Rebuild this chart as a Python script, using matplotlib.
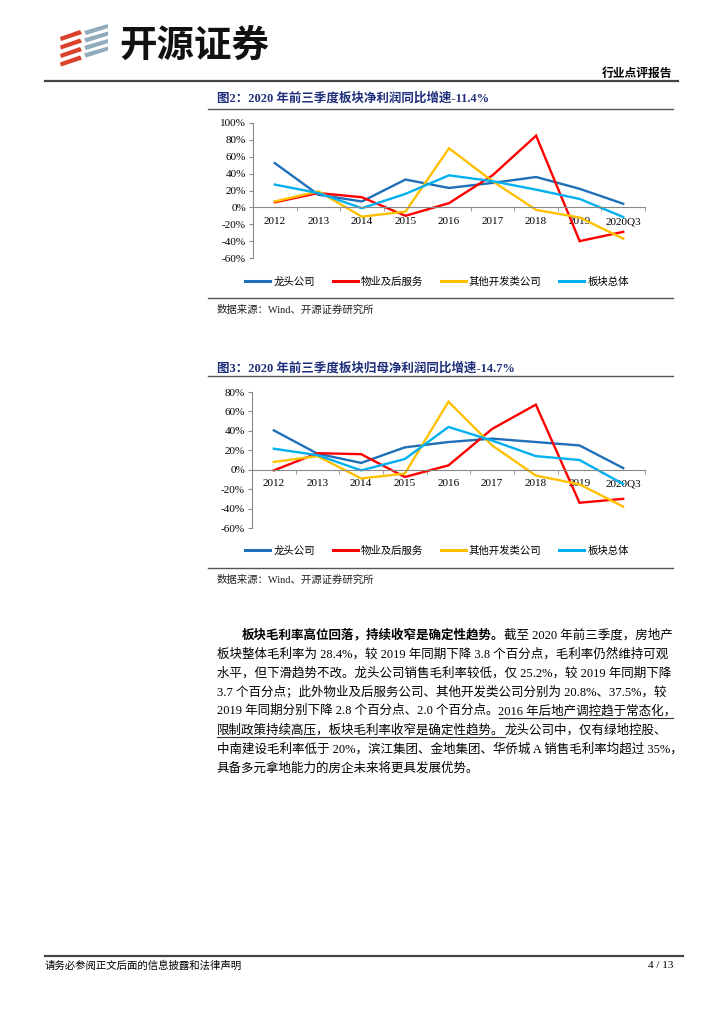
import matplotlib
matplotlib.use("Agg")
import matplotlib.pyplot as plt
from matplotlib.patches import Polygon

plt.rcParams['font.family'] = ['Liberation Serif', 'Noto Sans CJK SC', 'DejaVu Sans']

years = ['2012', '2013', '2014', '2015', '2016', '2017', '2018', '2019', '2020Q3']
series_names = ['龙头公司', '物业及后服务', '其他开发类公司', '板块总体']
colors = ['#1f6fb8', '#ff0000', '#ffc000', '#00b0f0']

# 图2 净利润同比增速 (%)
net_leader = [52.5, 15, 7, 33, 23, 29, 36, 22, 4.3]
net_property = [6, 17, 12, -10, 5, 38, 85, -40, -29]
net_other = [7, 19, -11, -5, 70, 31, -3, -12, -37]
net_total = [27, 17, -1, 16, 38, 31, 21, 10, -11.4]

# 图3 归母净利润同比增速 (%)
parent_leader = [40.5, 16.5, 7, 23, 28.5, 32, 28.5, 25, 1.7]
parent_property = [-0.7, 17, 16, -7.5, 4.5, 42, 67, -34, -30]
parent_other = [8, 14, -9, -4, 70, 25, -6, -15, -38]
parent_total = [21.6, 15, -0.7, 11, 44, 30, 14, 10, -14.7]

W, H = 724, 1024
fig = plt.figure(figsize=(W / 100, H / 100), dpi=100)
bg = fig.add_axes([0, 0, 1, 1])
bg.set_xlim(0, W)
bg.set_ylim(H, 0)
bg.axis('off')

cjk = ['Liberation Serif', 'Noto Sans CJK SC']
navy = '#1f2f7a'

# ---- header ----
for i in range(4):
    y0 = 30 + i * 8.5
    bg.add_patch(Polygon([[60, y0 + 7], [80, y0], [82, y0 + 4], [61, y0 + 11]],
                         closed=True, color='#d9412b', lw=0))
for i in range(4):
    y0 = 24 + i * 7.5
    bg.add_patch(Polygon([[84, y0 + 7], [108, y0], [108, y0 + 4], [86, y0 + 11]],
                         closed=True, color='#8fabbd', lw=0))
bg.text(119, 45, '开源证券', fontsize=27, fontweight='bold', family='Noto Sans CJK SC',
        va='center', ha='left', color='#111111')
bg.text(672, 73, '行业点评报告', fontsize=8.5, fontweight='bold', family='Noto Sans CJK SC',
        va='center', ha='right', color='black')
bg.plot([45, 678], [80.5, 80.5], color='#444444', lw=1.6)

# ---- footer ----
bg.plot([45, 683], [956, 956], color='#444444', lw=1.6)
bg.text(45, 966, '请务必参阅正文后面的信息披露和法律声明', fontsize=7.5, family=cjk,
        va='center', ha='left', color='black')
bg.text(673, 966, '4 / 13', fontsize=8, family=cjk, va='center', ha='right', color='black')


def draw_chart(rect, data, ylim, yticks, title, title_y, top_line, bottom_line, legend_y):
    bg.text(217, title_y, title, fontsize=9, fontweight='bold', family=cjk,
            color=navy, va='center', ha='left')
    bg.plot([208, 673], [top_line, top_line], color='#555555', lw=1.0)
    bg.plot([208, 673], [bottom_line, bottom_line], color='#555555', lw=1.0)
    bg.text(217, bottom_line + 12, '数据来源：Wind、开源证券研究所', fontsize=7.5,
            family=cjk, va='center', ha='left', color='#222222')

    ax = fig.add_axes(rect)
    ax.patch.set_alpha(0)
    x = list(range(len(years)))
    for vals, name, c in zip(data, series_names, colors):
        ax.plot(x, vals, color=c, lw=1.7, label=name, solid_joinstyle='miter')
    ax.set_xlim(-0.5, len(years) - 0.5)
    ax.set_ylim(*ylim)
    ax.set_yticks(yticks)
    ax.set_yticklabels([f'{v}%' for v in yticks], fontsize=8)
    ax.spines['top'].set_visible(False)
    ax.spines['right'].set_visible(False)
    ax.spines['left'].set_color('#888888')
    ax.spines['bottom'].set_position(('data', 0))
    ax.spines['bottom'].set_color('#888888')
    ax.set_xticks(x)
    ax.set_xticklabels(years, fontsize=8)
    ax.set_xticks([i + 0.5 for i in range(len(years))], minor=True)
    ax.tick_params(axis='x', which='major', length=0, pad=7)
    ax.tick_params(axis='x', which='minor', length=3, direction='out', color='#888888')
    ax.tick_params(axis='y', length=3, direction='out', color='#888888', pad=2)
    for lab in ax.get_xticklabels() + ax.get_yticklabels():
        lab.set_family(cjk)
    leg = ax.legend(loc='center', bbox_to_anchor=(437 / W, 1 - legend_y / H),
                    bbox_transform=fig.transFigure, ncol=4, frameon=False,
                    prop={'family': 'Noto Sans CJK SC', 'size': 7.5},
                    handlelength=2.4, handletextpad=0.3, columnspacing=1.7)
    for line in leg.get_lines():
        line.set_linewidth(2.2)
    return ax


draw_chart([253 / W, 1 - 258 / H, 392 / W, 135 / H],
           [net_leader, net_property, net_other, net_total],
           (-60, 100), [-60, -40, -20, 0, 20, 40, 60, 80, 100],
           '图2：2020 年前三季度板块净利润同比增速-11.4%', 98, 109, 298, 282)

draw_chart([252 / W, 1 - 528 / H, 393 / W, 136 / H],
           [parent_leader, parent_property, parent_other, parent_total],
           (-60, 80), [-60, -40, -20, 0, 20, 40, 60, 80],
           '图3：2020 年前三季度板块归母净利润同比增速-14.7%', 368, 376, 568, 551)

# ---- paragraph ----
fs = 9
line_ys = [635, 654, 673, 692, 711, 730, 749, 768]
bold_part = '板块毛利率高位回落，持续收窄是确定性趋势。'
first_rest = '截至 2020 年前三季度，房地产'
lines = [
    '板块整体毛利率为 28.4%，较 2019 年同期下降 3.8 个百分点，毛利率仍然维持可观',
    '水平，但下滑趋势不改。龙头公司销售毛利率较低，仅 25.2%，较 2019 年同期下降',
    '3.7 个百分点；此外物业及后服务公司、其他开发类公司分别为 20.8%、37.5%，较',
]
t_bold = bg.text(242, line_ys[0], bold_part, fontsize=fs, fontweight='bold', family=cjk,
                 va='center', ha='left', color='black')
bg.annotate(first_rest, xy=(1, 0.5), xycoords=t_bold, va='center', ha='left',
            fontsize=fs, family=cjk, color='black')
for y, s in zip(line_ys[1:4], lines):
    bg.text(217, y, s, fontsize=fs, family=cjk, va='center', ha='left', color='black')

t5a = bg.text(217, line_ys[4], '2019 年同期分别下降 2.8 个百分点、2.0 个百分点。', fontsize=fs,
              family=cjk, va='center', ha='left', color='black')
t5b = bg.annotate('2016 年后地产调控趋于常态化，', xy=(1, 0.5), xycoords=t5a, va='center',
                  ha='left', fontsize=fs, family=cjk, color='black')
t6a = bg.text(217, line_ys[5], '限制政策持续高压，板块毛利率收窄是确定性趋势。', fontsize=fs,
              family=cjk, va='center', ha='left', color='black')
bg.annotate('龙头公司中，仅有绿地控股、', xy=(1, 0.5), xycoords=t6a, va='center', ha='left',
            fontsize=fs, family=cjk, color='black')
bg.text(217, line_ys[6], '中南建设毛利率低于 20%，滨江集团、金地集团、华侨城 A 销售毛利率均超过 35%，',
        fontsize=fs, family=cjk, va='center', ha='left', color='black')
bg.text(217, line_ys[7], '具备多元拿地能力的房企未来将更具发展优势。', fontsize=fs, family=cjk,
        va='center', ha='left', color='black')

# underline the highlighted sentence
fig.canvas.draw()
inv = bg.transData.inverted()
for t, y in [(t5b, line_ys[4]), (t6a, line_ys[5])]:
    bb = t.get_window_extent()
    (x0, _), (x1, _) = inv.transform([[bb.x0, bb.y0], [bb.x1, bb.y1]])
    bg.plot([x0, min(x1, 673)], [y + 7, y + 7], color='#333333', lw=0.8)

fig.savefig('out.png', dpi=100)
